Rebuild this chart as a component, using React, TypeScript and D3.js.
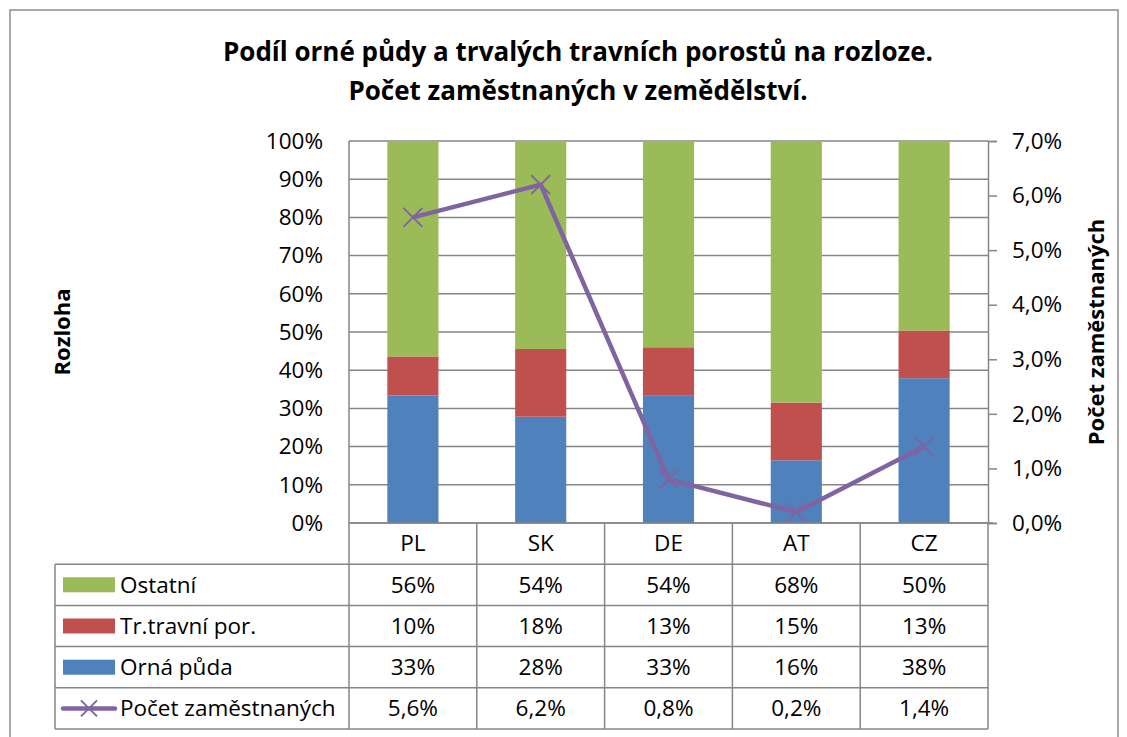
import * as React from 'react';
import * as d3 from 'd3';

const WIDTH = 1127;
const HEIGHT = 737;

const categories = ['PL', 'SK', 'DE', 'AT', 'CZ'];
const orna = [33.4, 27.8, 33.3, 16.4, 37.9];
const travni = [10.2, 17.7, 12.7, 15.1, 12.5];
const ostatni = [56.4, 54.4, 54.0, 68.4, 49.6];
const zamestnani = [5.6, 6.2, 0.8, 0.2, 1.4];

const leftTicks = [0, 10, 20, 30, 40, 50, 60, 70, 80, 90, 100];
const rightTicks = [0, 1, 2, 3, 4, 5, 6, 7];

const series = [
  { key: 'orna', label: 'Orná půda', color: '#4F81BD', values: orna },
  { key: 'travni', label: 'Tr.travní por.', color: '#C0504D', values: travni },
  { key: 'ostatni', label: 'Ostatní', color: '#9BBB59', values: ostatni },
];

const FONT = '"Open Sans", Lato, sans-serif';
const FS = 22.5;
const GRID = '#868686';
const PURPLE = '#8064A2';

const App = () => {
  const ref = React.useRef<SVGSVGElement>(null);

  React.useEffect(() => {
    const svg = d3.select(ref.current);
    svg.selectAll('*').remove();

    const plot = { left: 349, right: 988, top: 141, bottom: 523 };

    svg
      .append('rect')
      .attr('x', 10)
      .attr('y', 10)
      .attr('width', 1108)
      .attr('height', 745)
      .attr('fill', 'white')
      .attr('stroke', '#8c8c8c')
      .attr('stroke-width', 1.5);

    // title
    const title = svg
      .append('text')
      .attr('font-family', FONT)
      .attr('font-weight', 'bold')
      .attr('font-size', 26)
      .attr('text-anchor', 'middle');
    title.append('tspan').attr('x', 578).attr('y', 61).text('Podíl orné půdy a trvalých travních porostů na rozloze.');
    title.append('tspan').attr('x', 578).attr('y', 100).text('Počet zaměstnaných v zemědělství.');

    const x = d3.scaleBand().domain(categories).range([plot.left, plot.right]).paddingInner(0.6).paddingOuter(0.3);
    const xCell = d3.scaleBand().domain(categories).range([plot.left, plot.right]);
    const y = d3.scaleLinear().domain([0, 100]).range([plot.bottom, plot.top]);
    const y2 = d3.scaleLinear().domain([0, 7]).range([plot.bottom, plot.top]);

    // gridlines
    svg
      .append('g')
      .selectAll('line')
      .data(leftTicks)
      .enter()
      .append('line')
      .attr('x1', plot.left)
      .attr('x2', plot.right)
      .attr('y1', d => y(d))
      .attr('y2', d => y(d))
      .attr('stroke', GRID)
      .attr('stroke-width', 1.5);

    // stacked bars (100 %)
    const rows = categories.map((c, i) => {
      const total = orna[i] + travni[i] + ostatni[i];
      return {
        cat: c,
        orna: (orna[i] / total) * 100,
        travni: (travni[i] / total) * 100,
        ostatni: (ostatni[i] / total) * 100,
      };
    });
    const stack = d3.stack<any>().keys(series.map(s => s.key));
    const stacked = stack(rows);

    svg
      .append('g')
      .selectAll('g')
      .data(stacked)
      .enter()
      .append('g')
      .attr('fill', (_d, i) => series[i].color)
      .selectAll('rect')
      .data(d => d)
      .enter()
      .append('rect')
      .attr('x', d => x(d.data.cat)!)
      .attr('width', x.bandwidth())
      .attr('y', d => y(d[1]))
      .attr('height', d => y(d[0]) - y(d[1]));

    // axes lines
    svg
      .append('line')
      .attr('x1', plot.left)
      .attr('x2', plot.left)
      .attr('y1', plot.top)
      .attr('y2', plot.bottom)
      .attr('stroke', GRID)
      .attr('stroke-width', 1.5);

    const rightAxis = d3
      .axisRight(y2)
      .tickValues(rightTicks)
      .tickSize(9)
      .tickPadding(15)
      .tickFormat(d => d3.format('.1f')(d as number).replace('.', ',') + '%');
    const ra = svg.append('g').attr('transform', `translate(${plot.right},0)`).call(rightAxis);
    ra.select('.domain').attr('stroke', GRID).attr('stroke-width', 1.5);
    ra.selectAll('.tick line').attr('stroke', GRID).attr('stroke-width', 1.5);
    ra.selectAll('.tick text').attr('font-family', FONT).attr('font-size', FS).attr('fill', '#000');

    svg
      .append('g')
      .selectAll('text')
      .data(leftTicks)
      .enter()
      .append('text')
      .attr('x', 323)
      .attr('y', d => y(d))
      .attr('dy', '0.35em')
      .attr('text-anchor', 'end')
      .attr('font-family', FONT)
      .attr('font-size', FS)
      .text(d => d + '%');

    // axis titles
    svg
      .append('text')
      .attr('transform', `translate(70,${(plot.top + plot.bottom) / 2}) rotate(-90)`)
      .attr('text-anchor', 'middle')
      .attr('font-family', FONT)
      .attr('font-weight', 'bold')
      .attr('font-size', 22)
      .text('Rozloha');
    svg
      .append('text')
      .attr('transform', `translate(1104,${(plot.top + plot.bottom) / 2}) rotate(-90)`)
      .attr('text-anchor', 'middle')
      .attr('font-family', FONT)
      .attr('font-weight', 'bold')
      .attr('font-size', 22)
      .text('Počet zaměstnaných');

    // line series
    const line = d3
      .line<number>()
      .x((_d, i) => xCell(categories[i])! + xCell.bandwidth() / 2)
      .y(d => y2(d));
    svg
      .append('path')
      .datum(zamestnani)
      .attr('d', line)
      .attr('fill', 'none')
      .attr('stroke', PURPLE)
      .attr('stroke-width', 4.5)
      .attr('stroke-linejoin', 'round');

    const marker = (g: any, cx: number, cy: number, s: number) => {
      g.append('path')
        .attr('d', `M${cx - s},${cy - s}L${cx + s},${cy + s}M${cx - s},${cy + s}L${cx + s},${cy - s}`)
        .attr('stroke', PURPLE)
        .attr('stroke-width', 2);
    };
    const mg = svg.append('g');
    zamestnani.forEach((v, i) => marker(mg, xCell(categories[i])! + xCell.bandwidth() / 2, y2(v), 9.5));

    // data table
    const rowH = 41.2;
    const tableLeft = 55;
    const tableRows = [
      { label: 'Ostatní', values: ostatni, color: '#9BBB59', fmt: (v: number) => Math.round(v) + '%' },
      { label: 'Tr.travní por.', values: travni, color: '#C0504D', fmt: (v: number) => Math.round(v) + '%' },
      { label: 'Orná půda', values: orna, color: '#4F81BD', fmt: (v: number) => Math.round(v) + '%' },
      { label: 'Počet zaměstnaných', values: zamestnani, color: PURPLE, fmt: (v: number) => d3.format('.1f')(v).replace('.', ',') + '%', line: true },
    ];
    const tableTop = plot.bottom + rowH;
    const tg = svg.append('g');

    // header row
    categories.forEach(c => {
      tg.append('text')
        .attr('x', xCell(c)! + xCell.bandwidth() / 2)
        .attr('y', plot.bottom + rowH / 2)
        .attr('dy', '0.35em')
        .attr('text-anchor', 'middle')
        .attr('font-family', FONT)
        .attr('font-size', FS)
        .text(c);
    });

    tableRows.forEach((r, ri) => {
      const cy = tableTop + ri * rowH + rowH / 2;
      if (r.line) {
        tg.append('line')
          .attr('x1', 63)
          .attr('x2', 115)
          .attr('y1', cy)
          .attr('y2', cy)
          .attr('stroke', r.color)
          .attr('stroke-width', 4.5)
          .attr('stroke-linecap', 'round');
        marker(tg, 89, cy, 8);
      } else {
        tg.append('rect')
          .attr('x', 63)
          .attr('y', cy - 7.5)
          .attr('width', 52)
          .attr('height', 15)
          .attr('fill', r.color);
      }
      tg.append('text')
        .attr('x', 120)
        .attr('y', cy)
        .attr('dy', '0.35em')
        .attr('font-family', FONT)
        .attr('font-size', FS)
        .text(r.label);
      r.values.forEach((v, i) => {
        tg.append('text')
          .attr('x', xCell(categories[i])! + xCell.bandwidth() / 2)
          .attr('y', cy)
          .attr('dy', '0.35em')
          .attr('text-anchor', 'middle')
          .attr('font-family', FONT)
          .attr('font-size', FS)
          .text(r.fmt(v));
      });
    });

    // table grid
    const hLines = d3.range(0, tableRows.length + 1).map(i => tableTop + i * rowH);
    tg.selectAll('line.h')
      .data(hLines)
      .enter()
      .append('line')
      .attr('x1', tableLeft)
      .attr('x2', plot.right)
      .attr('y1', d => d)
      .attr('y2', d => d)
      .attr('stroke', GRID)
      .attr('stroke-width', 1.5);
    tg.append('line')
      .attr('x1', plot.left)
      .attr('x2', plot.right + 5)
      .attr('y1', plot.bottom)
      .attr('y2', plot.bottom)
      .attr('stroke', GRID)
      .attr('stroke-width', 1.5);
    const vx = [...categories.map(c => xCell(c)!), plot.right];
    tg.selectAll('line.v')
      .data(vx)
      .enter()
      .append('line')
      .attr('x1', d => d)
      .attr('x2', d => d)
      .attr('y1', plot.bottom)
      .attr('y2', tableTop + tableRows.length * rowH)
      .attr('stroke', GRID)
      .attr('stroke-width', 1.5);
    tg.append('line')
      .attr('x1', tableLeft)
      .attr('x2', tableLeft)
      .attr('y1', tableTop)
      .attr('y2', tableTop + tableRows.length * rowH)
      .attr('stroke', GRID)
      .attr('stroke-width', 1.5);
  }, []);

  return (
    <svg
      ref={ref}
      width={WIDTH}
      height={HEIGHT}
      style={{ position: 'absolute', left: 0, top: 0, background: 'white' }}
    />
  );
};

export default App;
